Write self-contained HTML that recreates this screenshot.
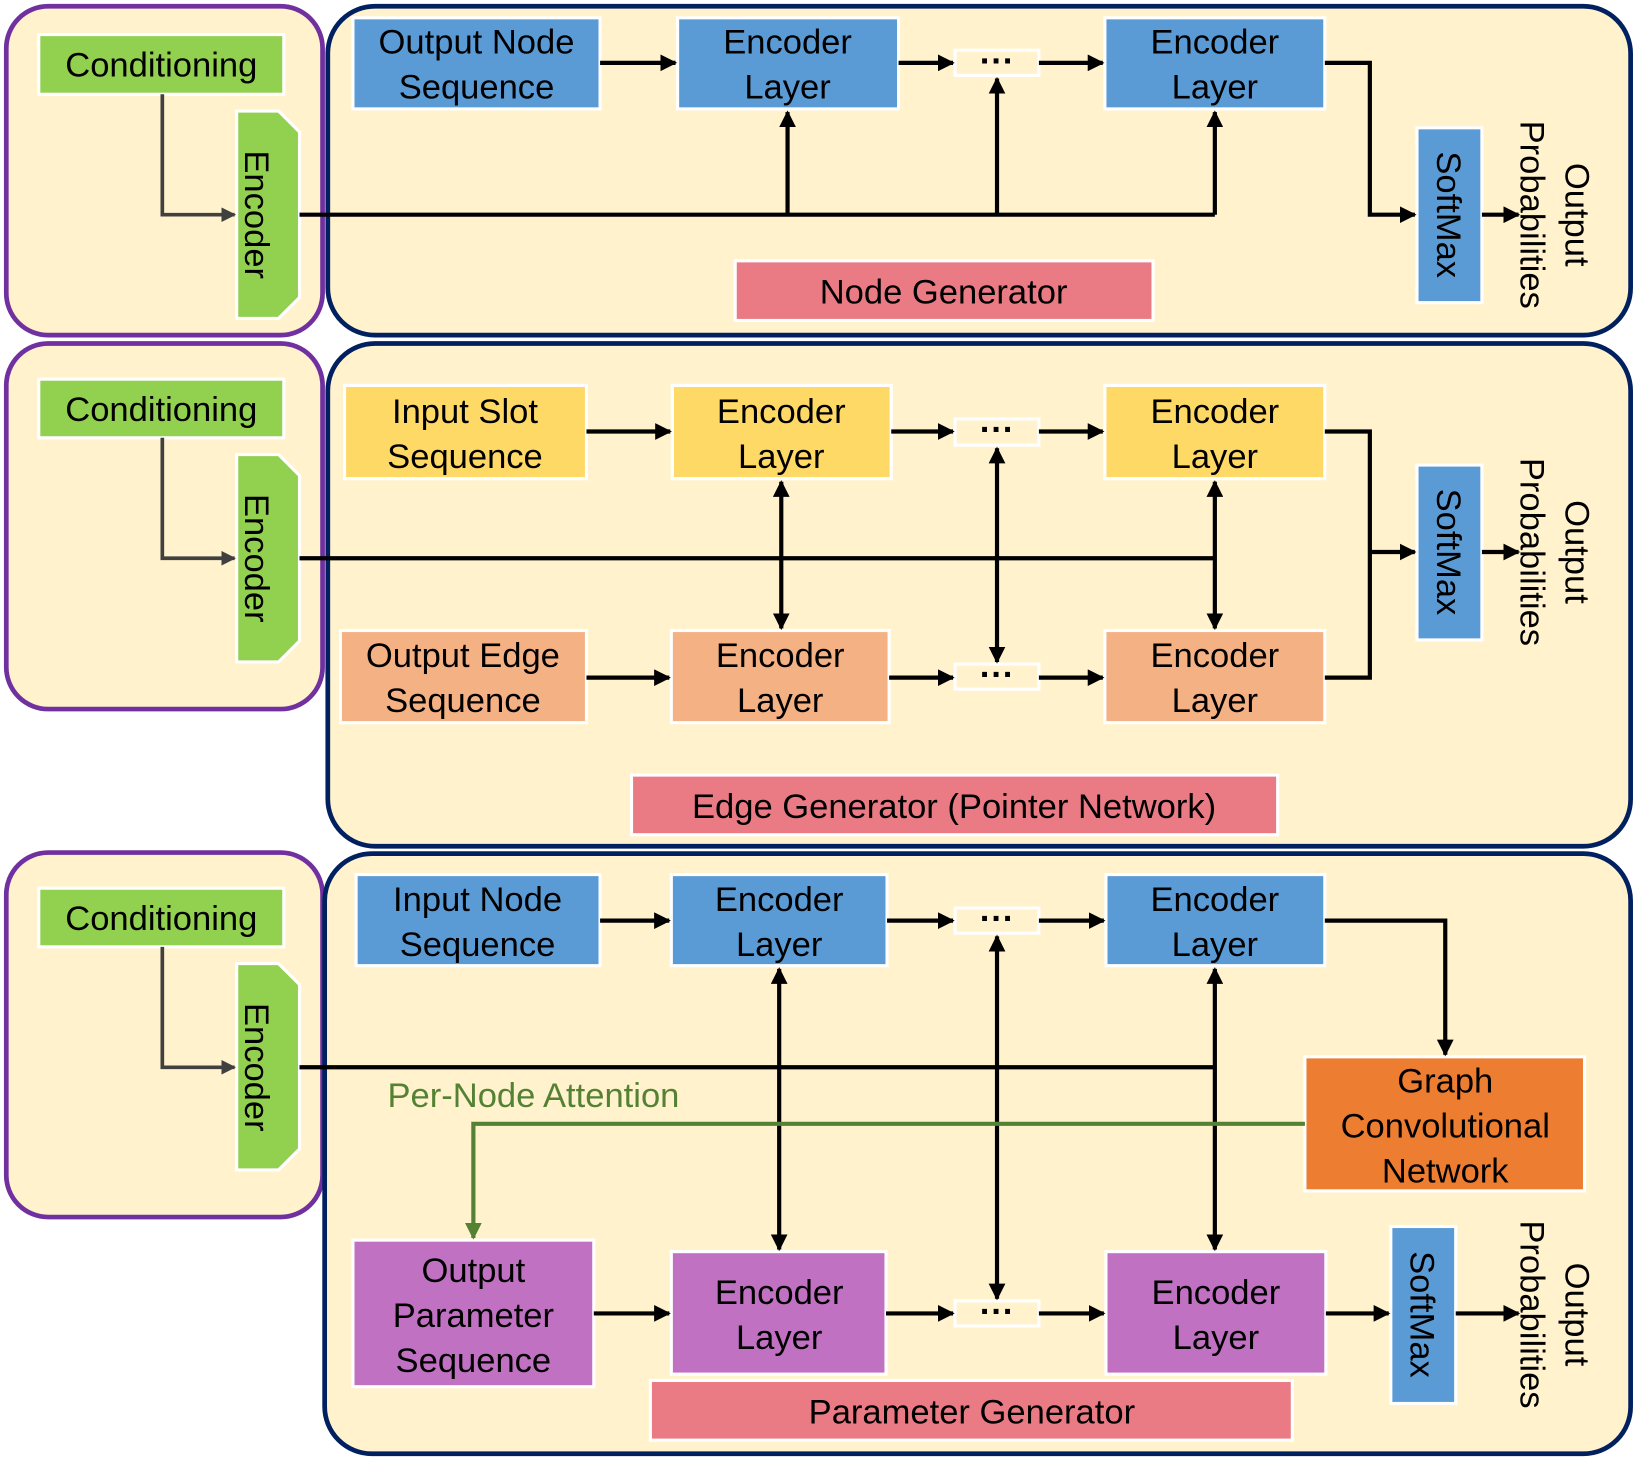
<!DOCTYPE html>
<html><head><meta charset="utf-8"><style>html,body{margin:0;padding:0;background:#fff}svg{display:block}text{font-family:"Liberation Sans",Arial,sans-serif;font-size:33px;fill:#000}</style></head><body>
<svg width="1639" height="1459" viewBox="0 0 1565 1393" preserveAspectRatio="none" xmlns="http://www.w3.org/2000/svg">
<defs>
<marker id="a" viewBox="0 0 10 10" refX="9" refY="5" markerWidth="4" markerHeight="4" orient="auto-start-reverse"><path d="M0,0L10,5L0,10z" fill="#000"/></marker>
<marker id="g" viewBox="0 0 10 10" refX="9" refY="5" markerWidth="4" markerHeight="4" orient="auto"><path d="M0,0L10,5L0,10z" fill="#404040"/></marker>
<marker id="gr" viewBox="0 0 10 10" refX="9" refY="5" markerWidth="4" markerHeight="4" orient="auto"><path d="M0,0L10,5L0,10z" fill="#548235"/></marker>
</defs>
<g fill="#fff2cc" stroke-width="4.5">
<rect x="6" y="6" width="302" height="314" rx="40" stroke="#7030a0"/>
<rect x="313" y="6" width="1244" height="314" rx="45" stroke="#002060"/>
<rect x="6" y="328" width="302" height="349" rx="40" stroke="#7030a0"/>
<rect x="313" y="328" width="1244" height="480" rx="45" stroke="#002060"/>
<rect x="6" y="814" width="302" height="348" rx="40" stroke="#7030a0"/>
<rect x="310" y="815" width="1247" height="573" rx="45" stroke="#002060"/>
</g>
<g stroke="#fff" stroke-width="3">
<rect x="37" y="33" width="234" height="57" fill="#92d050"/>
<rect x="37" y="362" width="234" height="56" fill="#92d050"/>
<rect x="37" y="848" width="234" height="56" fill="#92d050"/>
<path d="M226,106H266L286,126V284L266,304H226Z" fill="#92d050"/>
<path d="M226,434H266L286,454V612L266,632H226Z" fill="#92d050"/>
<path d="M226,920H266L286,940V1097L266,1117H226Z" fill="#92d050"/>
<g fill="#5b9bd5">
<rect x="337" y="17" width="236" height="87"/><rect x="647" y="17" width="211" height="87"/><rect x="1055" y="17" width="210" height="87"/>
<rect x="1353" y="122" width="62" height="167"/><rect x="1353" y="444" width="62" height="167"/><rect x="1328" y="1171" width="62" height="169"/>
<rect x="340" y="835" width="233" height="87"/><rect x="641" y="835" width="206" height="87"/><rect x="1056" y="835" width="209" height="87"/>
</g>
<g fill="#ffd966"><rect x="329" y="368" width="231" height="89"/><rect x="642" y="368" width="209" height="89"/><rect x="1055" y="368" width="210" height="89"/></g>
<g fill="#f4b183"><rect x="325" y="602" width="235" height="88"/><rect x="641" y="602" width="208" height="88"/><rect x="1055" y="602" width="210" height="88"/></g>
<g fill="#c071c2"><rect x="337" y="1184" width="230" height="140"/><rect x="641" y="1195" width="205" height="117"/><rect x="1056" y="1195" width="210" height="117"/></g>
<rect x="1246" y="1009" width="267" height="128" fill="#ed7d31"/>
<g fill="#ea7a84"><rect x="702" y="249" width="399" height="57"/><rect x="603" y="740" width="617" height="57"/><rect x="621" y="1318" width="613" height="57"/></g>
<g fill="#fff2cc"><rect x="912" y="48" width="80" height="24"/><rect x="912" y="400" width="80" height="25"/><rect x="912" y="634" width="80" height="24"/><rect x="912" y="867" width="80" height="24"/><rect x="912" y="1242" width="80" height="24"/></g>
</g>
<g fill="none" stroke="#404040" stroke-width="3.5">
<path d="M155,90V205H224" marker-end="url(#g)"/><path d="M155,418V533H224" marker-end="url(#g)"/><path d="M155,904V1019H224" marker-end="url(#g)"/>
</g>
<g fill="none" stroke="#000" stroke-width="4">
<path d="M573,60H645" marker-end="url(#a)"/><path d="M858,60H910" marker-end="url(#a)"/><path d="M992,60H1053" marker-end="url(#a)"/>
<path d="M286,205H1160"/><path d="M752,205V107" marker-end="url(#a)"/><path d="M952,205V75" marker-end="url(#a)"/><path d="M1160,205V107" marker-end="url(#a)"/>
<path d="M1265,60H1308V205H1351" marker-end="url(#a)"/><path d="M1415,205H1450" marker-end="url(#a)"/>
<path d="M560,412H640" marker-end="url(#a)"/><path d="M851,412H910" marker-end="url(#a)"/><path d="M992,412H1053" marker-end="url(#a)"/>
<path d="M560,647H639" marker-end="url(#a)"/><path d="M849,647H910" marker-end="url(#a)"/><path d="M992,647H1053" marker-end="url(#a)"/>
<path d="M286,533H1160"/>
<path d="M746,460V600" marker-start="url(#a)" marker-end="url(#a)"/><path d="M952,428V632" marker-start="url(#a)" marker-end="url(#a)"/><path d="M1160,460V600" marker-start="url(#a)" marker-end="url(#a)"/>
<path d="M1265,412H1308V647H1265"/><path d="M1308,527H1351" marker-end="url(#a)"/><path d="M1415,527H1450" marker-end="url(#a)"/>
<path d="M573,879H639" marker-end="url(#a)"/><path d="M847,879H910" marker-end="url(#a)"/><path d="M992,879H1054" marker-end="url(#a)"/>
<path d="M1265,879H1380V1007" marker-end="url(#a)"/>
<path d="M286,1019H1160"/>
<path d="M744,925V1193" marker-start="url(#a)" marker-end="url(#a)"/><path d="M952,894V1240" marker-start="url(#a)" marker-end="url(#a)"/><path d="M1160,925V1193" marker-start="url(#a)" marker-end="url(#a)"/>
<path d="M567,1254H639" marker-end="url(#a)"/><path d="M846,1254H910" marker-end="url(#a)"/><path d="M992,1254H1054" marker-end="url(#a)"/><path d="M1266,1254H1326" marker-end="url(#a)"/><path d="M1390,1254H1450" marker-end="url(#a)"/>
</g>
<path d="M1246,1073H452V1182" fill="none" stroke="#548235" stroke-width="4" marker-end="url(#gr)"/>
<text x="370" y="1057" style="fill:#548235">Per-Node Attention</text>
<g text-anchor="middle">
<text x="154" y="73">Conditioning</text><text x="154" y="402">Conditioning</text><text x="154" y="888">Conditioning</text>
<text x="455" y="51">Output Node</text><text x="455" y="94">Sequence</text>
<text x="752" y="51">Encoder</text><text x="752" y="94">Layer</text>
<text x="1160" y="51">Encoder</text><text x="1160" y="94">Layer</text>
<text x="901" y="290">Node Generator</text>
<text x="444" y="404">Input Slot</text><text x="444" y="447">Sequence</text>
<text x="746" y="404">Encoder</text><text x="746" y="447">Layer</text>
<text x="1160" y="404">Encoder</text><text x="1160" y="447">Layer</text>
<text x="442" y="637">Output Edge</text><text x="442" y="680">Sequence</text>
<text x="745" y="637">Encoder</text><text x="745" y="680">Layer</text>
<text x="1160" y="637">Encoder</text><text x="1160" y="680">Layer</text>
<text x="911" y="781">Edge Generator (Pointer Network)</text>
<text x="456" y="870">Input Node</text><text x="456" y="913">Sequence</text>
<text x="744" y="870">Encoder</text><text x="744" y="913">Layer</text>
<text x="1160" y="870">Encoder</text><text x="1160" y="913">Layer</text>
<text x="1380" y="1043">Graph</text><text x="1380" y="1086">Convolutional</text><text x="1380" y="1129">Network</text>
<text x="452" y="1224">Output</text><text x="452" y="1267">Parameter</text><text x="452" y="1310">Sequence</text>
<text x="744" y="1245">Encoder</text><text x="744" y="1288">Layer</text>
<text x="1161" y="1245">Encoder</text><text x="1161" y="1288">Layer</text>
<text x="928" y="1359">Parameter Generator</text>
<g style="font-size:26px;font-weight:bold"><text x="952" y="69">···</text><text x="952" y="421">···</text><text x="952" y="655">···</text><text x="952" y="888">···</text><text x="952" y="1263">···</text></g>
<text transform="translate(234,205) rotate(90)">Encoder</text>
<text transform="translate(234,533) rotate(90)">Encoder</text>
<text transform="translate(234,1019) rotate(90)">Encoder</text>
<text transform="translate(1372,205) rotate(90)">SoftMax</text>
<text transform="translate(1372,527) rotate(90)">SoftMax</text>
<text transform="translate(1347,1255) rotate(90)">SoftMax</text>
<text transform="translate(1495,205) rotate(90)">Output</text><text transform="translate(1452,205) rotate(90)">Probabilities</text>
<text transform="translate(1495,527) rotate(90)">Output</text><text transform="translate(1452,527) rotate(90)">Probabilities</text>
<text transform="translate(1495,1255) rotate(90)">Output</text><text transform="translate(1452,1255) rotate(90)">Probabilities</text>
</g>
</svg>
</body></html>
